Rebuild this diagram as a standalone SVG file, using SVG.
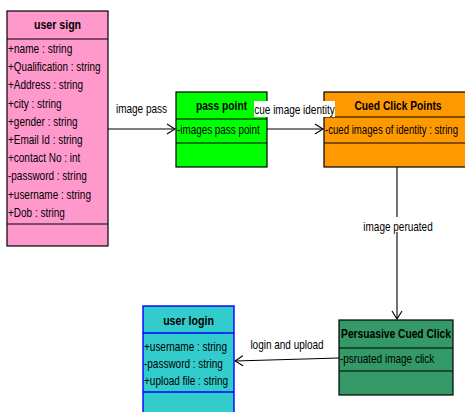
<svg xmlns="http://www.w3.org/2000/svg" width="465" height="412" viewBox="0 0 465 412">
<defs>
<style>
text{font-family:"Liberation Sans",Arial,sans-serif;font-size:12.5px;fill:#000}
.h{font-weight:bold;text-anchor:middle}
.box{stroke:#000;stroke-width:1.2}
.sep{stroke:#000;stroke-width:1.2}
.con{stroke:#000;stroke-width:1.1;fill:none}
.lbl{text-anchor:middle}
</style>
<marker id="open" viewBox="0 0 10 12" refX="9" refY="6" markerWidth="10" markerHeight="12" markerUnits="userSpaceOnUse" orient="auto">
<path d="M1,1 L9,6 L1,11" fill="none" stroke="#000" stroke-width="1.1"/>
</marker>
</defs>
<rect width="465" height="412" fill="#fff"/>
<g id="connectors">
<line class="con" x1="108" y1="129" x2="175" y2="129" marker-end="url(#open)"/>
<text class="lbl" transform="translate(141.5,113) scale(0.8,1)">image pass</text>
<line class="con" x1="267" y1="129" x2="323" y2="129" marker-end="url(#open)"/>
<line class="con" x1="397" y1="167" x2="397" y2="319" marker-end="url(#open)"/>
<rect x="362" y="217" width="71" height="15" fill="#fff"/>
<text class="lbl" transform="translate(398,231) scale(0.8,1)">image peruated</text>
<line class="con" x1="339" y1="358" x2="235" y2="361" marker-end="url(#open)"/>
<text class="lbl" transform="translate(287,349) scale(0.8,1)">login and upload</text>
</g>
<g id="user-sign">
<rect class="box" x="7" y="11" width="101" height="235" fill="#FF99CC"/>
<line class="sep" x1="7" y1="39" x2="108" y2="39"/>
<line class="sep" x1="7" y1="224" x2="108" y2="224"/>
<text class="h" transform="translate(57.5,29) scale(0.85,1)">user sign</text>
<text transform="translate(8,53) scale(0.81,1)">+name : string</text>
<text transform="translate(8,71.2) scale(0.79,1)">+Qualification  : string</text>
<text transform="translate(8,89.4) scale(0.8,1)">+Address : string</text>
<text transform="translate(8,107.6) scale(0.8,1)">+city : string</text>
<text transform="translate(8,125.8) scale(0.8,1)">+gender : string</text>
<text transform="translate(8,144) scale(0.8,1)">+Email Id : string</text>
<text transform="translate(8,162.2) scale(0.8,1)">+contact No : int</text>
<text transform="translate(8,180.4) scale(0.8,1)">-password : string</text>
<text transform="translate(8,198.6) scale(0.8,1)">+username : string</text>
<text transform="translate(8,216.8) scale(0.8,1)">+Dob : string</text>
</g>
<g id="pass-point">
<rect class="box" x="176" y="92" width="91" height="75" fill="#00FF00"/>
<line class="sep" x1="176" y1="119" x2="267" y2="119"/>
<line class="sep" x1="176" y1="143" x2="267" y2="143"/>
<text class="h" transform="translate(221.5,110) scale(0.82,1)">pass point</text>
<text transform="translate(177,134) scale(0.79,1)">-images pass point</text>
</g>
<g id="cued-click-points">
<rect class="box" x="324" y="92" width="150" height="75" fill="#FF9900"/>
<line class="sep" x1="324" y1="117" x2="474" y2="117"/>
<line class="sep" x1="324" y1="143" x2="474" y2="143"/>
<text class="h" transform="translate(398,110) scale(0.82,1)">Cued Click Points</text>
<text transform="translate(325,134) scale(0.77,1)">-cued images of identity : string</text>
</g>
<g id="cue-label">
<rect x="254" y="101" width="81" height="16" fill="#fff"/>
<text class="lbl" transform="translate(294.5,114) scale(0.8,1)">cue image identity</text>
</g>
<g id="persuasive-cued-click">
<rect class="box" x="339" y="320" width="114" height="75" fill="#339966"/>
<line class="sep" x1="339" y1="348" x2="453" y2="348"/>
<line class="sep" x1="339" y1="371" x2="453" y2="371"/>
<text class="h" transform="translate(396,338) scale(0.82,1)">Persuasive Cued Click</text>
<text transform="translate(340,363) scale(0.8,1)">-psruated image click</text>
</g>
<g id="user-login">
<rect x="143" y="306" width="91" height="120" fill="#33CCCC" stroke="#0000FF" stroke-width="1.4"/>
<line x1="143" y1="333" x2="234" y2="333" stroke="#0000FF" stroke-width="1.4"/>
<line x1="143" y1="392" x2="234" y2="392" stroke="#0000FF" stroke-width="1.4"/>
<text class="h" transform="translate(188.5,325) scale(0.85,1)">user login</text>
<text transform="translate(144,351) scale(0.8,1)">+username : string</text>
<text transform="translate(144,368) scale(0.8,1)">-password : string</text>
<text transform="translate(144,385) scale(0.8,1)">+upload file : string</text>
</g>
</svg>
